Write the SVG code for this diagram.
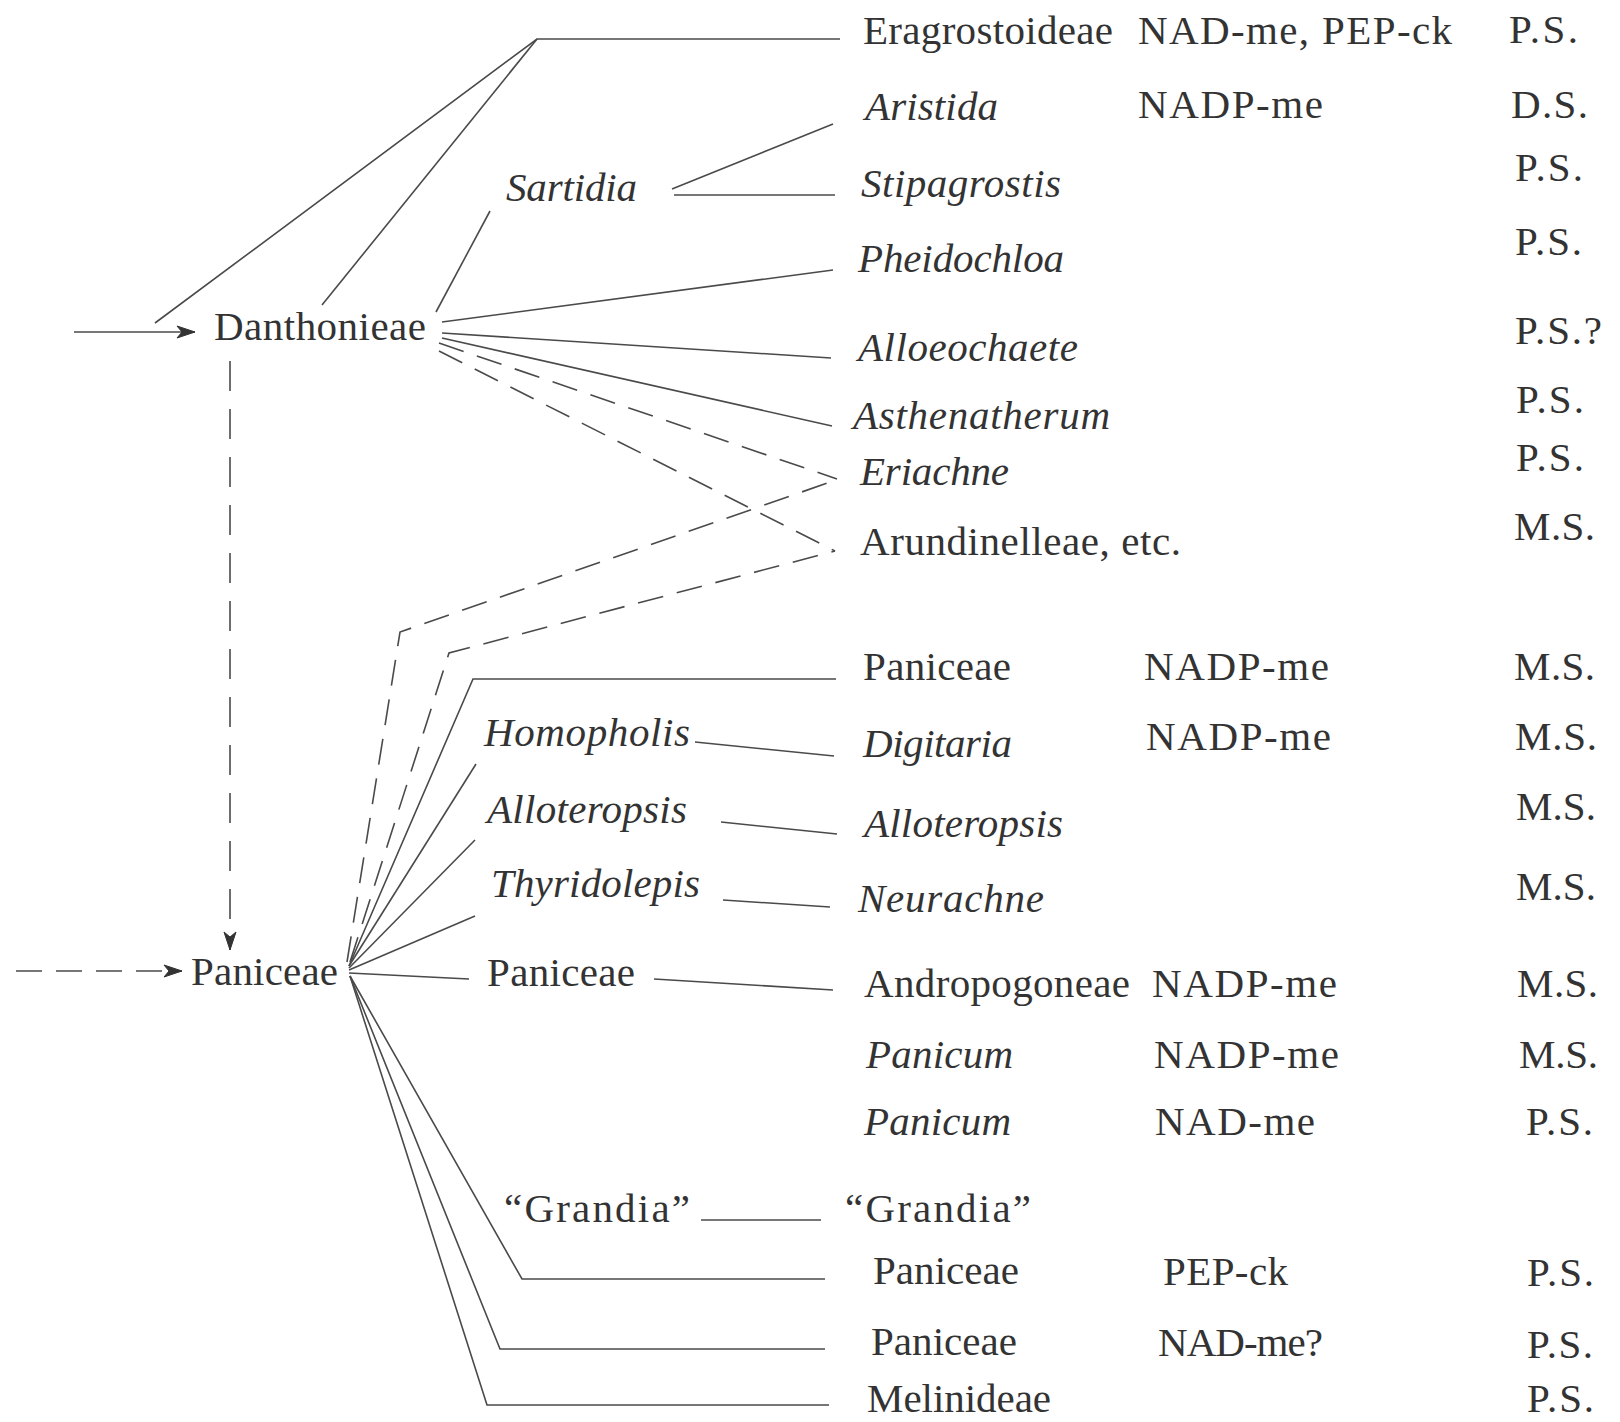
<svg xmlns="http://www.w3.org/2000/svg" width="1620" height="1422" viewBox="0 0 1620 1422">
<style>
.t{font-family:"Liberation Serif","Times New Roman",serif;font-size:41px;fill:#333}
.i{font-style:italic}
.c{fill:none;stroke:#4a4a4a;stroke-width:1.6}
.d1{stroke-dasharray:30 18}
.d2{stroke-dasharray:26 14}
</style>
<defs>
<marker id="ah" viewBox="0 0 20 14" refX="19" refY="7" markerWidth="20" markerHeight="14" markerUnits="userSpaceOnUse" orient="auto">
<path d="M1,1 L19,7 L1,13 L6,7 z" fill="#333" stroke="#333" stroke-width="1" stroke-linejoin="round"/>
</marker>
</defs>
<rect width="1620" height="1422" fill="#fff"/>
<g id="connectors">
<path class="c" d="M74,332 L195,332" marker-end="url(#ah)"/>
<path class="c" d="M155,323 L537,39 L840,39"/>
<path class="c" d="M322,305 L537,39"/>
<path class="c" d="M436,312 L490,211"/>
<path class="c" d="M672,189 L833,124"/>
<path class="c" d="M674,195 L835,195"/>
<path class="c" d="M442,322 L833,270"/>
<path class="c" d="M442,333 L831,358"/>
<path class="c" d="M442,338 L832,426"/>
<path class="c d2" d="M439,343 L837,479"/>
<path class="c d2" d="M439,351 L835,551"/>
<path class="c d1" d="M230,361 L230,950" marker-end="url(#ah)"/>
<path class="c d2" d="M16,971 L182,971" marker-end="url(#ah)"/>
<path class="c d2" d="M347,962 L400,632 L839,479"/>
<path class="c d2" d="M350,962 L449,653 L835,551"/>
<path class="c" d="M349,966 L473,679 L836,679"/>
<path class="c" d="M349,966 L476,764"/>
<path class="c" d="M349,968 L475,840"/>
<path class="c" d="M349,970 L475,916"/>
<path class="c" d="M349,973 L469,979"/>
<path class="c" d="M695,742 L834,756"/>
<path class="c" d="M721,822 L837,834"/>
<path class="c" d="M723,900 L830,907"/>
<path class="c" d="M654,979 L833,990"/>
<path class="c" d="M701,1220 L821,1220"/>
<path class="c" d="M350,976 L522,1279 L825,1279"/>
<path class="c" d="M350,976 L500,1349 L825,1349"/>
<path class="c" d="M350,976 L487,1405 L829,1405"/>
</g>
<g id="danthonieae"><text class="t" x="214" y="340" textLength="212">Danthonieae</text></g>
<g id="paniceae-root"><text class="t" x="191" y="985" textLength="147">Paniceae</text></g>
<g id="sartidia"><text class="t i" x="506" y="201" textLength="131">Sartidia</text></g>
<g id="homopholis"><text class="t i" x="484" y="746" textLength="206">Homopholis</text></g>
<g id="alloteropsis-l"><text class="t i" x="487" y="823" textLength="200">Alloteropsis</text></g>
<g id="thyridolepis"><text class="t i" x="491" y="897" textLength="209">Thyridolepis</text></g>
<g id="paniceae-mid"><text class="t" x="487" y="986" textLength="148">Paniceae</text></g>
<g id="grandia-l"><text class="t" x="504" y="1222" textLength="186">“Grandia”</text></g>
<g id="row-eragrostoideae">
<text class="t" x="863" y="44" textLength="250">Eragrostoideae</text>
<text class="t" x="1138" y="44" textLength="314">NAD-me, PEP-ck</text>
<text class="t" x="1509" y="43" textLength="69">P.S.</text>
</g>
<g id="row-aristida">
<text class="t i" x="865" y="120" textLength="133">Aristida</text>
<text class="t" x="1138" y="118" textLength="185">NADP-me</text>
<text class="t" x="1511" y="118" textLength="77">D.S.</text>
</g>
<g id="row-stipagrostis">
<text class="t i" x="861" y="197" textLength="200">Stipagrostis</text>
<text class="t" x="1515" y="181" textLength="68">P.S.</text>
</g>
<g id="row-pheidochloa">
<text class="t i" x="858" y="272" textLength="206">Pheidochloa</text>
<text class="t" x="1515" y="255" textLength="67">P.S.</text>
</g>
<g id="row-alloeochaete">
<text class="t i" x="858" y="361" textLength="220">Alloeochaete</text>
<text class="t" x="1515" y="344" textLength="87">P.S.?</text>
</g>
<g id="row-asthenatherum">
<text class="t i" x="853" y="429" textLength="257">Asthenatherum</text>
<text class="t" x="1516" y="413" textLength="68">P.S.</text>
</g>
<g id="row-eriachne">
<text class="t i" x="860" y="485" textLength="149">Eriachne</text>
<text class="t" x="1516" y="471" textLength="68">P.S.</text>
</g>
<g id="row-arundinelleae">
<text class="t" x="860" y="555" textLength="321">Arundinelleae, etc.</text>
<text class="t" x="1514" y="540" textLength="81">M.S.</text>
</g>
<g id="row-paniceae-1">
<text class="t" x="863" y="680" textLength="148">Paniceae</text>
<text class="t" x="1144" y="680" textLength="185">NADP-me</text>
<text class="t" x="1514" y="680" textLength="81">M.S.</text>
</g>
<g id="row-digitaria">
<text class="t i" x="863" y="757" textLength="149">Digitaria</text>
<text class="t" x="1146" y="750" textLength="185">NADP-me</text>
<text class="t" x="1515" y="750" textLength="82">M.S.</text>
</g>
<g id="row-alloteropsis">
<text class="t i" x="864" y="837" textLength="199">Alloteropsis</text>
<text class="t" x="1516" y="820" textLength="80">M.S.</text>
</g>
<g id="row-neurachne">
<text class="t i" x="858" y="912" textLength="186">Neurachne</text>
<text class="t" x="1516" y="900" textLength="80">M.S.</text>
</g>
<g id="row-andropogoneae">
<text class="t" x="864" y="997" textLength="266">Andropogoneae</text>
<text class="t" x="1152" y="997" textLength="185">NADP-me</text>
<text class="t" x="1517" y="997" textLength="81">M.S.</text>
</g>
<g id="row-panicum-1">
<text class="t i" x="866" y="1068" textLength="147">Panicum</text>
<text class="t" x="1154" y="1068" textLength="185">NADP-me</text>
<text class="t" x="1519" y="1068" textLength="79">M.S.</text>
</g>
<g id="row-panicum-2">
<text class="t i" x="864" y="1135" textLength="147">Panicum</text>
<text class="t" x="1155" y="1135" textLength="160">NAD-me</text>
<text class="t" x="1526" y="1135" textLength="67">P.S.</text>
</g>
<g id="row-grandia"><text class="t" x="845" y="1222" textLength="186">“Grandia”</text></g>
<g id="row-paniceae-2">
<text class="t" x="873" y="1284" textLength="146">Paniceae</text>
<text class="t" x="1163" y="1285" textLength="125">PEP-ck</text>
<text class="t" x="1527" y="1286" textLength="67">P.S.</text>
</g>
<g id="row-paniceae-3">
<text class="t" x="871" y="1355" textLength="146">Paniceae</text>
<text class="t" x="1158" y="1356" textLength="165">NAD-me?</text>
<text class="t" x="1527" y="1358" textLength="66">P.S.</text>
</g>
<g id="row-melinideae">
<text class="t" x="867" y="1412" textLength="184">Melinideae</text>
<text class="t" x="1527" y="1412" textLength="67">P.S.</text>
</g>
</svg>
